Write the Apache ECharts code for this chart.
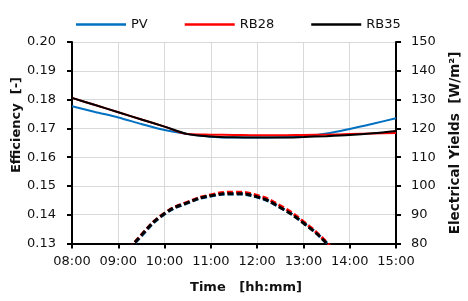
<!DOCTYPE html>
<html>
<head>
<meta charset="utf-8">
<script src="https://cdn.jsdelivr.net/npm/echarts@6/dist/echarts.min.js"></script>
<style>
html,body{margin:0;padding:0;background:#fff;}
#chart{width:468px;height:301px;}
</style>
</head>
<body>
<div id="chart"></div>
<script>
var times = ['08:00','08:30','09:00','09:30','10:00','10:30','11:00','11:30','12:00','12:30','13:00','13:30','14:00','14:30','15:00'];

var effPV   = [0.1777,0.1757,0.1738,0.1715,0.1694,0.1680,0.1671,0.1668,0.1668,0.1669,0.1672,0.1682,0.1698,0.1716,0.1735];
var effRB28 = [0.1806,0.1781,0.1756,0.1731,0.1706,0.1680,0.1678,0.1677,0.1676,0.1676,0.1677,0.1678,0.1680,0.1682,0.1684];
var effRB35 = [0.1806,0.1781,0.1756,0.1731,0.1706,0.1680,0.1672,0.1669,0.1668,0.1668,0.1670,0.1673,0.1677,0.1683,0.1691];

var yieldPV   = [50,62,72.8,82.6,90.2,94.1,96.5,97.2,96.1,92.5,87.2,80.2,71.2,61.2,50.2];
var yieldRB28 = [50,62,73.0,83.0,90.5,94.4,96.9,97.8,96.7,93.1,87.6,80.4,71.3,61.3,50.3];
var yieldRB35 = [50,62,73.0,82.9,90.4,94.2,96.6,97.3,96.2,92.5,87.1,80.1,71.1,61.1,50.1];

var legendNames = ['PV','RB28','RB35'];
var colors = {PV:'#0070C0', RB28:'#FF0000', RB35:'#000000'};

var FONT = 'DejaVu Sans';
var chart = echarts.init(document.getElementById('chart'), null, {renderer:'canvas'});

function effSeries(name, data){
  return {name:name, type:'line', data:data, yAxisIndex:0, symbol:'none', smooth:0.3,
    lineStyle:{width:2, color:colors[name]}, itemStyle:{color:colors[name]}, z:3};
}
function yieldSeries(name, data, z){
  return {name:name+' yield', type:'line', data:data, yAxisIndex:1, symbol:'none', smooth:0.5,
    lineStyle:{width:3, color:colors[name], type:[6,3]}, itemStyle:{color:colors[name]}, z:z};
}

var option = {
  animation:false,
  textStyle:{fontFamily:FONT},
  grid:{left:72, right:72, top:42, bottom:57.5, containLabel:false},
  legend:{
    data:legendNames, left:71, top:13, icon:'rect', itemWidth:50, itemHeight:2.5, itemGap:37,
    textStyle:{fontFamily:FONT, fontSize:13, color:'#111'}
  },
  xAxis:{
    type:'category', data:times, boundaryGap:false,
    axisLine:{show:true, lineStyle:{color:'#000', width:2}},
    axisTick:{show:true, inside:false, length:5, interval:1, lineStyle:{color:'#000', width:2}},
    axisLabel:{interval:1, margin:12, fontFamily:FONT, fontSize:13, color:'#111'},
    splitLine:{show:true, interval:1, lineStyle:{color:'#d9d9d9', width:1}}
  },
  yAxis:[
    {type:'value', min:0.13, max:0.20, interval:0.01, position:'left',
      axisLine:{show:true, lineStyle:{color:'#000', width:2}},
      axisTick:{show:true, length:5, lineStyle:{color:'#000', width:2}},
      axisLabel:{margin:16, fontFamily:FONT, fontSize:13, color:'#111', formatter:function(v){return v.toFixed(2);}},
      splitLine:{show:true, lineStyle:{color:'#d9d9d9', width:1}}
    },
    {type:'value', min:80, max:150, interval:10, position:'right',
      axisLine:{show:true, lineStyle:{color:'#000', width:2}},
      axisTick:{show:true, length:5, lineStyle:{color:'#000', width:2}},
      axisLabel:{margin:15, fontFamily:FONT, fontSize:13, color:'#111'},
      splitLine:{show:false}
    }
  ],
  graphic:[
    {type:'text', x:17, y:125, rotation:Math.PI/2,
      style:{text:'Efficiency  [-]', fontFamily:FONT, fontSize:13, fontWeight:'bold', fill:'#111', align:'center', verticalAlign:'middle'}},
    {type:'text', x:455, y:143, rotation:Math.PI/2,
      style:{text:'Electrical Yields  [W/m²]', fontFamily:FONT, fontSize:13.5, fontWeight:'bold', fill:'#111', align:'center', verticalAlign:'middle'}},
    {type:'text', x:246, y:288,
      style:{text:'Time   [hh:mm]', fontFamily:FONT, fontSize:13, fontWeight:'bold', fill:'#111', align:'center', verticalAlign:'middle'}}
  ],
  series:[
    effSeries('PV', effPV),
    effSeries('RB28', effRB28),
    effSeries('RB35', effRB35),
    yieldSeries('PV', yieldPV, 2),
    yieldSeries('RB28', yieldRB28, 3),
    yieldSeries('RB35', yieldRB35, 4)
  ]
};
chart.setOption(option);
</script>
</body>
</html>
